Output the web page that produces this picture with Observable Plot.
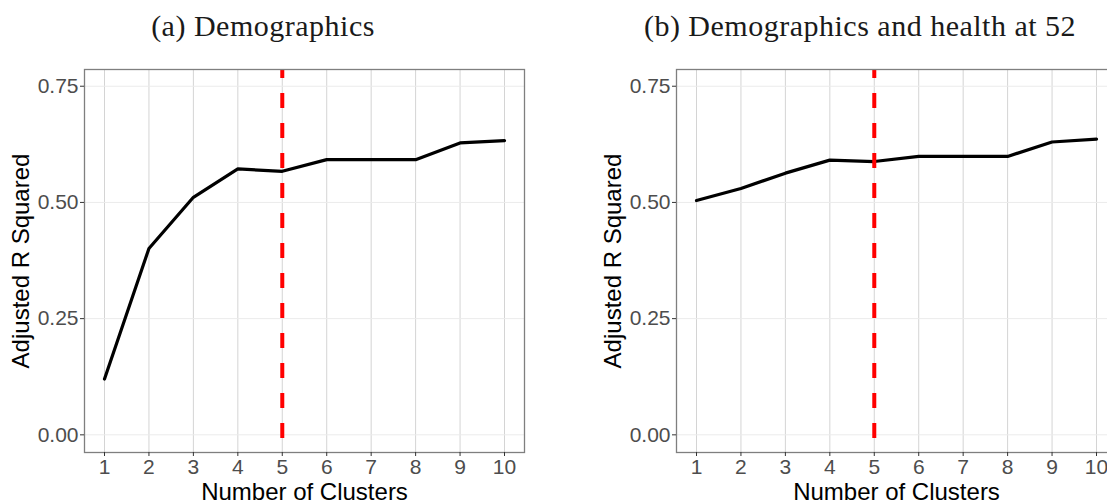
<!DOCTYPE html>
<html>
<head>
<meta charset="utf-8">
<script src="https://cdn.jsdelivr.net/npm/d3@7"></script>
<script src="https://cdn.jsdelivr.net/npm/@observablehq/plot@0.6"></script>
<style>
  html, body { margin: 0; padding: 0; background: #fff; }
  #wrap { position: relative; width: 1107px; height: 504px; overflow: hidden; background: #fff; }
  .panel { position: absolute; top: 0; }
  .title { position: absolute; width: 600px; text-align: center; font-family: "Liberation Serif", "Times New Roman", serif;
           font-size: 30px; line-height: 30px; letter-spacing: 0.5px; color: #1a1a1a; top: 11px; white-space: nowrap; }
</style>
</head>
<body>
<div id="wrap"></div>
<script>
const clusters = [1, 2, 3, 4, 5, 6, 7, 8, 9, 10];
const r2Demographics = [0.120, 0.401, 0.511, 0.572, 0.567, 0.592, 0.592, 0.592, 0.628, 0.633];
const r2DemoHealth = [0.504, 0.530, 0.563, 0.591, 0.588, 0.599, 0.599, 0.599, 0.630, 0.636];
const yTicks = [0, 0.25, 0.5, 0.75];
const chosenK = 5;
const titles = ["(a) Demographics", "(b) Demographics and health at 52"];
const yLabel = "Adjusted R Squared";
const xLabel = "Number of Clusters";

const wrap = document.getElementById("wrap");

function panel(values, left, titleCenter, title) {
  const data = clusters.map((k, i) => ({k, r2: values[i]}));
  const chart = Plot.plot({
    width: 560,
    height: 504,
    marginLeft: 84,
    marginRight: 36,
    marginTop: 69,
    marginBottom: 52,
    style: {background: "transparent", overflow: "visible"},
    x: {domain: [0.55, 10.45]},
    y: {domain: [-0.038, 0.786]},
    marks: [
      Plot.gridX(clusters, {stroke: "#d4d4d4", strokeOpacity: 1, strokeWidth: 1}),
      Plot.gridY(yTicks, {stroke: "#ebebeb", strokeOpacity: 1, strokeWidth: 1}),
      Plot.line(data, {x: "k", y: "r2", stroke: "black", strokeWidth: 3.2, strokeLinejoin: "round"}),
      Plot.ruleX([chosenK], {stroke: "#ff0000", strokeWidth: 4, strokeDasharray: "15,15", strokeDashoffset: 6}),
      Plot.frame({stroke: "#7f7f7f", strokeWidth: 1.3}),
      Plot.axisY(yTicks, {tickFormat: d3.format(".2f"), tickSize: 4, tickPadding: 2, fontSize: 21,
        stroke: "#333333", fill: "#4d4d4d", label: null, fontFamily: "Liberation Sans, Arial, sans-serif"}),
      Plot.axisX(clusters, {tickFormat: d => String(d), tickSize: 4, tickPadding: 3, fontSize: 21,
        stroke: "#333333", fill: "#4d4d4d", label: null, fontFamily: "Liberation Sans, Arial, sans-serif"}),
      Plot.text([yLabel], {frameAnchor: "left", rotate: -90, dx: -63, fontSize: 24, fill: "#000",
        textAnchor: "middle", fontFamily: "Liberation Sans, Arial, sans-serif", lineAnchor: "middle"}),
      Plot.text([xLabel], {frameAnchor: "bottom", dy: 40, fontSize: 24, fill: "#000",
        textAnchor: "middle", fontFamily: "Liberation Sans, Arial, sans-serif", lineAnchor: "middle"})
    ]
  });
  chart.classList.add("panel");
  chart.style.left = left + "px";
  wrap.appendChild(chart);
  const t = document.createElement("div");
  t.className = "title";
  t.textContent = title;
  t.style.left = (titleCenter - 300) + "px";
  wrap.appendChild(t);
}

panel(r2Demographics, 0, 263, titles[0]);
panel(r2DemoHealth, 592, 860, titles[1]);
</script>
</body>
</html>
